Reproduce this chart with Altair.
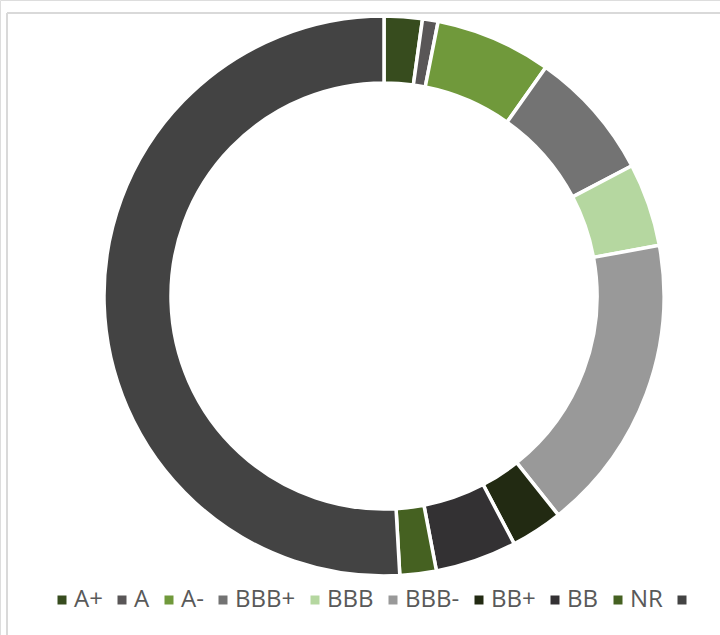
import altair as alt
import pandas as pd

ratings = ["A+", "A", "A-", "BBB+", "BBB", "BBB-", "BB+", "BB", "NR", " "]
shares = [2.2, 0.9, 6.7, 7.5, 4.8, 17.2, 3.0, 4.7, 2.1, 50.9]
colors = ["#374C1E", "#595657", "#70993B", "#737373", "#B5D7A0",
          "#999999", "#222A12", "#333133", "#456121", "#434343"]

df = pd.DataFrame({"rating": ratings, "share": shares, "idx": list(range(len(ratings)))})

donut = alt.Chart(df).mark_arc(
    outerRadius=280, innerRadius=213, stroke="white", strokeWidth=3.5
).encode(
    theta=alt.Theta("share:Q", stack=True),
    order=alt.Order("idx:O"),
    color=alt.Color(
        "rating:N",
        sort=ratings,
        scale=alt.Scale(domain=ratings, range=colors),
        legend=alt.Legend(
            title=None,
            orient="none",
            direction="horizontal",
            legendX=50,
            legendY=588,
            symbolType="square",
            symbolSize=81,
            symbolStrokeWidth=0,
            labelFontSize=24,
            labelFont="Open Sans",
            labelColor="#595959",
            labelOffset=0,
            columnPadding=7,
            gridAlign="each",
            padding=0,
        ),
    ),
    x=alt.value(384),
    y=alt.value(296),
)

frame_top = alt.Chart(df).mark_rule(color="#d9d9d9", strokeWidth=1.5).encode(
    x=alt.value(7), x2=alt.value(720), y=alt.value(13)
)
frame_left = alt.Chart(df).mark_rule(color="#d9d9d9", strokeWidth=1.5).encode(
    x=alt.value(7), y=alt.value(13), y2=alt.value(635)
)

chart = alt.layer(frame_top, frame_left, donut).properties(
    width=720, height=635, padding=0, autosize=alt.AutoSizeParams(type="none")
).configure_view(stroke=None).configure(background="white")

chart.save("out.html", embed_options={"renderer": "svg", "actions": False})
